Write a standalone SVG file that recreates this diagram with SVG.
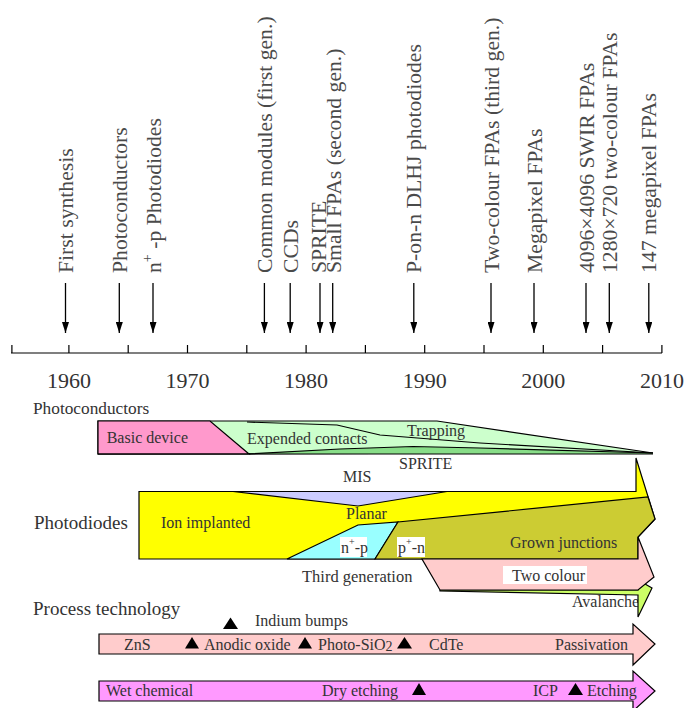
<svg xmlns="http://www.w3.org/2000/svg" width="686" height="708" viewBox="0 0 686 708">
<defs>
<style>
text{font-family:"Liberation Serif","Times New Roman",serif;fill:#333}
.v{font-size:21.7px;fill:#4a4a4a}
.yr{font-size:22px;text-anchor:middle;fill:#333}
.l{font-size:16px}
.h{font-size:19px}
.o{stroke:#000;stroke-width:1.2;stroke-linejoin:miter}
.ln{fill:none;stroke:#000;stroke-width:1.2}
.ar{stroke:#000;stroke-width:1.3;marker-end:url(#ah)}
.tri{fill:#000}
</style>
<marker id="ah" markerUnits="userSpaceOnUse" markerWidth="12" markerHeight="7" refX="11" refY="3.5" orient="auto" viewBox="0 0 12 7">
<path d="M0,0 L11,3.5 L0,7 z" fill="#000"/>
</marker>
</defs>
<rect width="686" height="708" fill="#fff"/>

<g id="labels-top">
<text class="v" transform="translate(73,273) rotate(-90)">First synthesis</text>
<text class="v" transform="translate(127,273) rotate(-90)">Photoconductors</text>
<text class="v" transform="translate(160.5,273) rotate(-90)">n<tspan font-size="14" dy="-9">+</tspan><tspan dy="9"> -p Photodiodes</tspan></text>
<text class="v" transform="translate(272,273) rotate(-90)">Common modules (first gen.)</text>
<text class="v" transform="translate(297.7,273) rotate(-90)">CCDs</text>
<text class="v" transform="translate(326,273) rotate(-90)">SPRITE</text>
<text class="v" transform="translate(340.5,273) rotate(-90)">Small FPAs (second gen.)</text>
<text class="v" transform="translate(421,273) rotate(-90)">P-on-n DLHJ photodiodes</text>
<text class="v" transform="translate(498.5,273) rotate(-90)">Two-colour FPAs (third gen.)</text>
<text class="v" transform="translate(541.5,273) rotate(-90)">Megapixel FPAs</text>
<text class="v" transform="translate(593.5,273) rotate(-90)">4096×4096 SWIR FPAs</text>
<text class="v" transform="translate(617,273) rotate(-90)">1280×720 two-colour FPAs</text>
<text class="v" transform="translate(656,273) rotate(-90)">147 megapixel FPAs</text>
</g>

<g id="connectors">
<line class="ar" x1="65.5" y1="283" x2="65.5" y2="333"/>
<line class="ar" x1="119.3" y1="283" x2="119.3" y2="333"/>
<line class="ar" x1="153" y1="283" x2="153" y2="333"/>
<line class="ar" x1="264.4" y1="283" x2="264.4" y2="333"/>
<line class="ar" x1="290.2" y1="283" x2="290.2" y2="333"/>
<line class="ar" x1="320" y1="283" x2="320" y2="333"/>
<line class="ar" x1="332.7" y1="283" x2="332.7" y2="333"/>
<line class="ar" x1="413.8" y1="283" x2="413.8" y2="333"/>
<line class="ar" x1="491" y1="283" x2="491" y2="333"/>
<line class="ar" x1="534" y1="283" x2="534" y2="333"/>
<line class="ar" x1="586" y1="283" x2="586" y2="333"/>
<line class="ar" x1="609.3" y1="283" x2="609.3" y2="333"/>
<line class="ar" x1="648.8" y1="283" x2="648.8" y2="333"/>
</g>

<g id="axis">
<path class="ln" d="M11,353 H662 M11.9,345 V353 M68.9,345 V353 M128.2,345 V353 M187.5,345 V353 M246.8,345 V353 M306.1,345 V353 M365.4,345 V353 M424.7,345 V353 M484,345 V353 M543.3,345 V353 M602.6,345 V353 M661.9,345 V353"/>
<text class="yr" x="68.9" y="388">1960</text>
<text class="yr" x="187.5" y="388">1970</text>
<text class="yr" x="306.1" y="388">1980</text>
<text class="yr" x="424.7" y="388">1990</text>
<text class="yr" x="543.3" y="388">2000</text>
<text class="yr" x="661.9" y="388">2010</text>
</g>

<g id="photoconductors">
<text x="33" y="414" style="font-size:17.3px">Photoconductors</text>
<polygon class="o" fill="#ccffcc" points="98,421 437,421 653,453 98,454"/>
<polygon fill="#88dd88" points="250,453.5 340,449 413,446.5 480,448 653,453 653,454 250,454"/>
<polyline class="ln" points="247,422 337,425 380,435 480,443 653,453"/>
<polyline class="ln" points="249,454 340,449 413,446.5 480,448 653,453"/>
<polygon class="o" fill="#ff99cc" points="98,421 210,421 249,454 98,454"/>
<line class="ln" x1="98" y1="454" x2="653" y2="454"/>
<text class="l" x="106.7" y="443">Basic device</text>
<text class="l" x="247" y="444">Expended contacts</text>
<text class="l" x="407" y="436">Trapping</text>
<text class="l" x="399" y="469">SPRITE</text>
<text class="l" x="343" y="482">MIS</text>
</g>

<g id="photodiodes">
<text class="h" x="34" y="529">Photodiodes</text>
<polygon class="o" fill="#ffff00" points="139,491.5 636,491.5 636,458 655,519 638,537 638,559 139,559"/>
<polygon class="o" fill="#ccccff" points="233,491.5 447,491.5 358,506"/>
<polygon class="o" fill="#99ffff" points="287,559 358,525 398,522 375,559"/>
<polygon class="o" fill="#cccc33" points="375,559 398,522 648,497 655,519 638,537 638,559"/>
<text class="l" x="161" y="528">Ion implanted</text>
<text class="l" x="346" y="519">Planar</text>
<rect x="340" y="537" width="27" height="20" fill="#fff"/>
<text class="l" x="341" y="553">n<tspan font-size="10" dy="-8">+</tspan><tspan dy="8">-p</tspan></text>
<rect x="397" y="537" width="28" height="20" fill="#fff"/>
<text class="l" x="398" y="553">p<tspan font-size="10" dy="-8">+</tspan><tspan dy="8">-n</tspan></text>
<text class="l" x="510" y="548">Grown junctions</text>
</g>

<g id="avalanche">
<text class="l" x="572" y="607">Avalanche</text>
<polygon class="o" fill="#ccff66" points="440,590 638,590 638,580 652,588 638,617 638,595 440,591"/>
</g>

<g id="two-colour">
<polygon class="o" fill="#ffcccc" points="422,559 638,559 638,537 654,577 638,590 440,590"/>
<rect x="503" y="566" width="84" height="18" fill="#fff"/>
<text class="l" x="512" y="581">Two colour</text>
<text x="302" y="582" style="font-size:16.5px">Third generation</text>
</g>

<g id="process">
<text class="h" x="33" y="615">Process technology</text>
<polygon class="tri" points="223,629 230.5,617.5 238,629"/>
<text class="l" x="255" y="626">Indium bumps</text>
</g>

<g id="passivation">
<polygon class="o" fill="#ffcccc" points="99,634 633,634 633,624 655,644 633,665 633,654 99,654"/>
<text class="l" x="124" y="650">ZnS</text>
<polygon class="tri" points="185,648.5 192,637 199,648.5"/>
<text class="l" x="204" y="650">Anodic oxide</text>
<polygon class="tri" points="298,648.5 305,637 312,648.5"/>
<text class="l" x="318" y="650">Photo-SiO<tspan font-size="14" dy="1">2</tspan></text>
<polygon class="tri" points="397,648.5 404.5,637 412,648.5"/>
<text class="l" x="429" y="650">CdTe</text>
<text class="l" x="555" y="650">Passivation</text>
</g>

<g id="etching">
<polygon class="o" fill="#ff99ff" points="99,681 633,681 633,671 655,691 633,711 633,701 99,701"/>
<text class="l" x="106" y="696">Wet chemical</text>
<text class="l" x="322" y="696">Dry etching</text>
<polygon class="tri" points="412,695 419,683 426,695"/>
<text class="l" x="533" y="696">ICP</text>
<polygon class="tri" points="568,695 575.5,683 583,695"/>
<text class="l" x="587" y="696">Etching</text>
</g>
</svg>
